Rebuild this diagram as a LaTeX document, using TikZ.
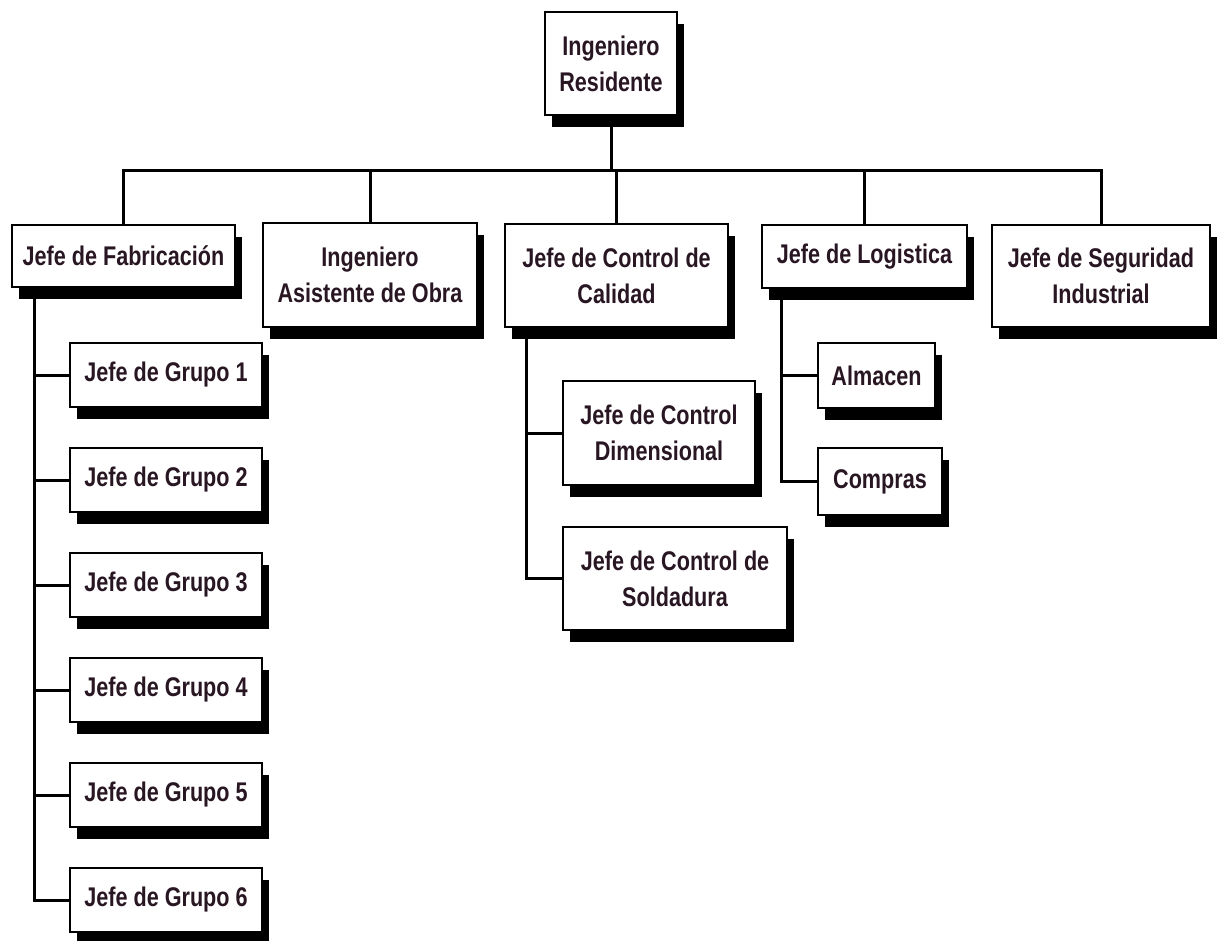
\documentclass[tikz,border=0pt]{standalone}
\usepackage{fontspec}
\setmainfont{Liberation Sans}[FakeStretch=0.8]
\usetikzlibrary{shadows}
\definecolor{txt}{RGB}{40,22,34}
\tikzset{
  box/.style={draw=black, line width=2.8pt, fill=white, inner sep=0pt, align=center,
    text=txt, font=\fontsize{27}{36}\selectfont\bfseries,
    drop shadow={shadow xshift=7pt, shadow yshift=-12pt, fill=black, opacity=1}},
  link/.style={line width=3pt, draw=black}
}
\begin{document}
\begin{tikzpicture}[x=1pt, y=-1pt]
\useasboundingbox (0,0) rectangle (1217,940);
\node[box, minimum width=132pt, minimum height=103pt] (R) at (611,63.5) {Ingeniero\\Residente};
\node[box, minimum width=223pt, minimum height=62pt] (F) at (123.5,256) {Jefe de Fabricación};
\node[box, minimum width=214pt, minimum height=104pt] (A) at (370,275) {Ingeniero\\Asistente de Obra};
\node[box, minimum width=223pt, minimum height=103pt] (C) at (616.5,275.5) {Jefe de Control de\\Calidad};
\node[box, minimum width=205pt, minimum height=63pt] (L) at (864.5,256.5) {Jefe de Logistica};
\node[box, minimum width=218pt, minimum height=102pt] (S) at (1101,276) {Jefe de Seguridad\\Industrial};
\foreach \i in {1,...,6}{
  \node[box, minimum width=192pt, minimum height=64pt] (G\i) at (166,{375+105*(\i-1)}) {Jefe de Grupo \i};
}
\node[box, minimum width=192pt, minimum height=104pt] (D) at (659,433) {Jefe de Control\\Dimensional};
\node[box, minimum width=224pt, minimum height=103pt] (So) at (675,578.5) {Jefe de Control de\\Soldadura};
\node[box, minimum width=117pt, minimum height=65pt] (Al) at (876.5,375.5) {Almacen};
\node[box, minimum width=124pt, minimum height=67pt] (Co) at (880,481.5) {Compras};
% connectors
\coordinate (bar) at (611,170);
\draw[link] (R.south) -- (bar);
\draw[link] (F.north) |- (bar) -| (S.north);
\draw[link] (A.north) -- (A.north |- bar);
\draw[link] (C.north) -- (C.north |- bar);
\draw[link] (L.north) -- (L.north |- bar);
\coordinate (fx) at ([xshift=24pt]F.south west);
\draw[link] (fx) |- (G6.west);
\foreach \i in {1,...,5}{ \draw[link] (G\i.west) -- (G\i.west -| fx); }
\coordinate (cx) at ([xshift=23pt]C.south west);
\draw[link] (cx) |- (So.west);
\draw[link] (D.west) -- (D.west -| cx);
\coordinate (lx) at ([xshift=21pt]L.south west);
\draw[link] (lx) |- (Co.west);
\draw[link] (Al.west) -- (Al.west -| lx);
\end{tikzpicture}
\end{document}
